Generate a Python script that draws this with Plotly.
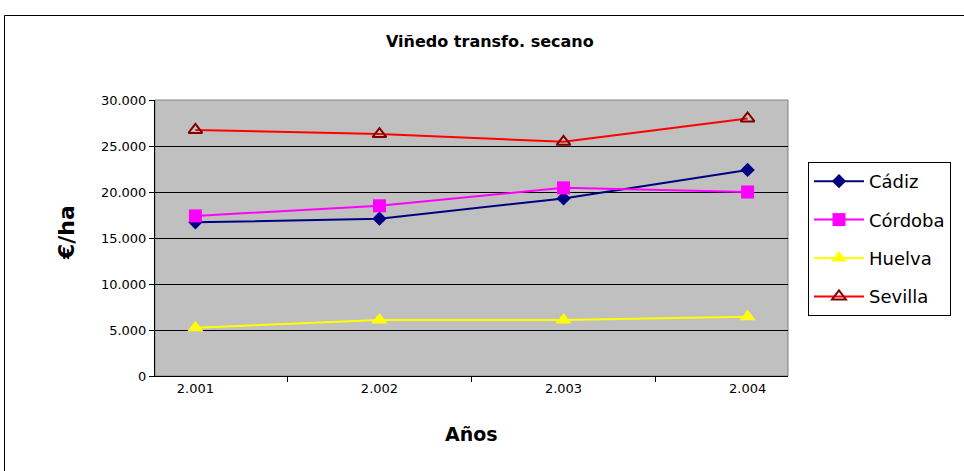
import plotly.graph_objects as go

years = ["2.001", "2.002", "2.003", "2.004"]
cadiz = [16700, 17100, 19300, 22400]
cordoba = [17400, 18500, 20450, 20000]
huelva = [5250, 6080, 6080, 6450]
sevilla = [26750, 26300, 25450, 28000]

W, H = 964, 471
# plot area in page pixels
L, R, T, B = 155, 788, 100, 376

def px(x):
    return (x - L) / (R - L)

def py(y):
    return (B - y) / (B - T)

font = "DejaVu Sans, Liberation Sans, Arial, sans-serif"

fig = go.Figure()
series = [
    ("Cádiz", cadiz, "#000080", "#000080", "diamond", 11),
    ("Córdoba", cordoba, "#FF00FF", "#FF00FF", "square", 13),
    ("Huelva", huelva, "#FFFF00", "#FFFF00", "triangle-up", 14),
    ("Sevilla", sevilla, "#FF0000", "#800000", "triangle-up-open", 12),
]
for name, vals, lc, mc, sym, sz in series:
    fig.add_trace(go.Scatter(
        x=years, y=vals, name=name, mode="lines+markers",
        legendgroup=name,
        line=dict(color=lc, width=2),
        marker=dict(symbol=sym, size=sz, color=mc,
                    line=dict(color=mc, width=2 if "open" in sym else 0)),
    ))

fig.update_layout(
    width=W, height=H,
    margin=dict(l=L, r=W - R, t=T, b=H - B, pad=0, autoexpand=False),
    paper_bgcolor="white",
    plot_bgcolor="#C0C0C0",
    separators=",.",
    font=dict(family=font, color="black", size=13),
    showlegend=True,
    legend=dict(
        xref="container", yref="container",
        x=808 / W, y=1 - 162 / H, xanchor="left", yanchor="top",
        bordercolor="black", borderwidth=1, bgcolor="white",
        font=dict(size=18, family=font),
        tracegroupgap=12,
        itemwidth=50,
        entrywidth=175, entrywidthmode="pixels",
    ),
    xaxis=dict(
        type="category", tickson="boundaries", ticks="outside", ticklen=5,
        tickcolor="black", showline=True, linecolor="black", linewidth=1,
        showgrid=False, tickfont=dict(size=13), mirror=False, automargin=False,
    ),
    yaxis=dict(
        range=[0, 30000], dtick=5000, tickformat=",d", ticks="outside", ticklen=5,
        tickcolor="black", showline=True, linecolor="black", linewidth=1,
        showgrid=True, gridcolor="black", gridwidth=1, zeroline=False,
        tickfont=dict(size=13), automargin=False,
    ),
    shapes=[
        dict(type="rect", xref="paper", yref="paper",
             x0=0, x1=1, y0=0, y1=1, line=dict(color="#808080", width=1),
             fillcolor="rgba(0,0,0,0)", layer="below"),
        dict(type="rect", xref="paper", yref="paper",
             x0=px(4.5), x1=px(990), y0=py(490), y1=py(15.5),
             line=dict(color="black", width=1), fillcolor="rgba(0,0,0,0)"),
    ],
    annotations=[
        dict(text="<b>Viñedo transfo. secano</b>", xref="paper", yref="paper",
             x=px(490), y=py(42), xanchor="center", yanchor="middle",
             showarrow=False, font=dict(size=16, family=font)),
        dict(text="<b>€/ha</b>", xref="paper", yref="paper",
             x=px(66), y=py(233), xanchor="center", yanchor="middle",
             showarrow=False, textangle=-90,
             font=dict(size=22, family=font)),
        dict(text="<b>Años</b>", xref="paper", yref="paper",
             x=px(471), y=py(434), xanchor="center", yanchor="middle",
             showarrow=False, font=dict(size=19, family=font)),
    ],
)

fig.write_html(
    "out.html",
    config={"displayModeBar": False},
    post_script="document.body.style.margin='0';document.body.style.overflow='hidden';",
)
